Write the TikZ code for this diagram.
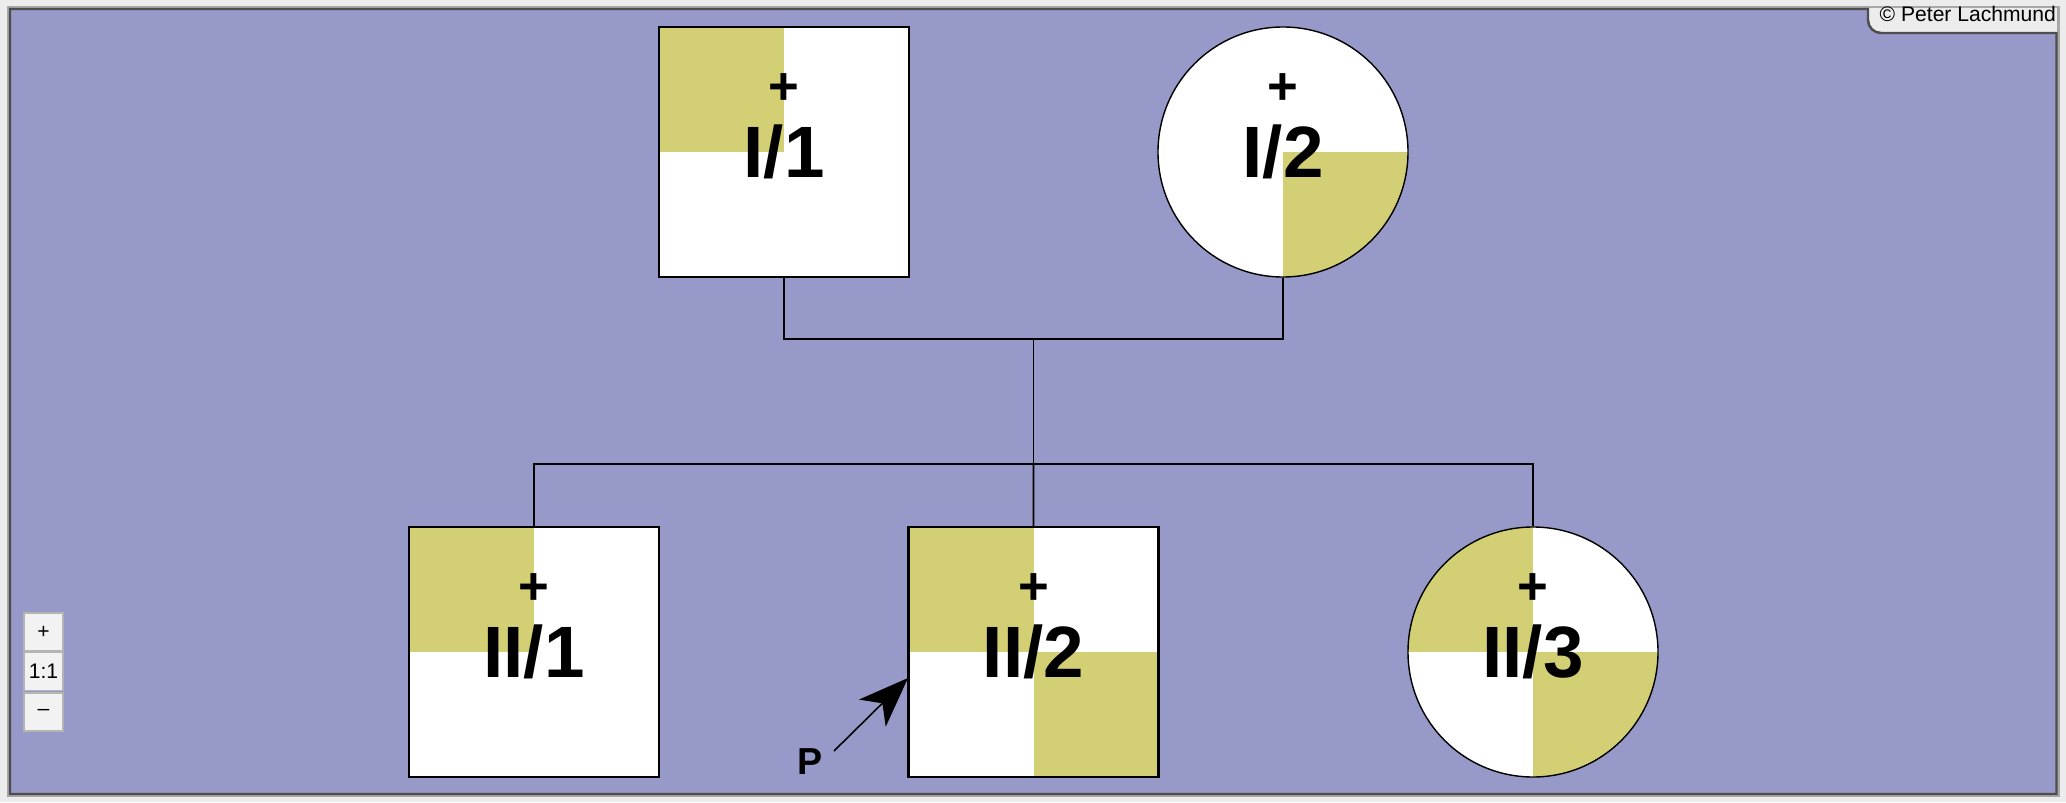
\documentclass[tikz,border=0pt]{standalone}
\usepackage{fontspec}
\setmainfont{Liberation Sans}
\usetikzlibrary{calc, arrows.meta}

\definecolor{bgpurple}{RGB}{151,153,200}
\definecolor{aff}{RGB}{211,207,116}
\definecolor{frameouter}{RGB}{236,236,236}
\definecolor{framemid}{RGB}{168,168,168}
\definecolor{framedark}{RGB}{77,77,77}
\definecolor{btnborder}{RGB}{180,180,180}
\definecolor{btnfill}{RGB}{242,242,242}

\begin{document}
\begin{tikzpicture}[
	male/.style={draw, rectangle, minimum size=2.5cm, fill=white, line width=0.6pt, inner sep=0pt, font=\bfseries\fontsize{20.7}{24}\selectfont},
	female/.style={draw, circle, minimum size=2.5cm, fill=white, line width=0.4pt, inner sep=0pt, font=\bfseries\fontsize{20.7}{24}\selectfont},
	tl/.style={path picture={\fill[aff] (path picture bounding box.north west) rectangle (path picture bounding box.center);}},
	br/.style={path picture={\fill[aff] (path picture bounding box.south east) rectangle (path picture bounding box.center);}},
	tlbr/.style={path picture={\fill[aff] (path picture bounding box.north west) rectangle (path picture bounding box.center);
		\fill[aff] (path picture bounding box.south east) rectangle (path picture bounding box.center);}},
	dec/.style={inner sep=0pt, font=\bfseries\fontsize{15}{18}\selectfont},
	line/.style={line width=0.45pt},
	btn/.style={draw=btnborder, fill=btnfill, line width=0.5pt, minimum width=0.39cm, minimum height=0.38cm, inner sep=0pt, font=\fontsize{6}{7}\selectfont}
]
	\useasboundingbox (0,0) rectangle (20.66,-8.02);

	% window frame
	\fill[frameouter] (0,0) rectangle (20.66,-8.02);
	\draw[framemid, line width=0.6pt] (0.08,-0.07) rectangle (20.585,-7.96);
	\filldraw[fill=bgpurple, draw=framedark, line width=0.7pt] (0.10,-0.09) -- (18.68,-0.09) -- (18.68,-0.20)
		arc[start angle=180, end angle=270, radius=0.13] -- (20.565,-0.33) -- (20.565,-7.94) -- (0.10,-7.94) -- cycle;
	\node[anchor=base west, inner sep=0pt, font=\fontsize{6}{7}\selectfont] (copy) at (18.79,-0.21) {© Peter Lachmund};

	% generation I
	\node[male, tl] (I1) at (7.84,-1.52) {I/1};
	\node[female, br] (I2) at (12.83,-1.52) {I/2};
	\node[dec] (I1d) at ([yshift=6.3mm]I1.center) {+};
	\node[dec] (I2d) at ([yshift=6.3mm]I2.center) {+};

	% generation II
	\node[male, tl] (II1) at (5.34,-6.52) {II/1};
	\node[male, tlbr] (II2) at (10.335,-6.52) {II/2};
	\node[female, tlbr] (II3) at (15.33,-6.52) {II/3};
	\node[dec] (II1d) at ([yshift=6.3mm]II1.center) {+};
	\node[dec] (II2d) at ([yshift=6.3mm]II2.center) {+};
	\node[dec] (II3d) at ([yshift=6.3mm]II3.center) {+};

	% lines
	\coordinate (mate) at ($(I1.south)!0.5!(I2.south)+(0,-0.61)$);
	\coordinate (sib) at ($(mate)+(0,-1.25)$);
	\draw[line] (I1.south) |- (mate) -| (I2.south);
	\draw[line] (mate) -- (sib);
	\draw[line] (II1.north) |- (sib) -| (II3.north);
	\draw[line] (sib) -- (II2.north);

	% proband
	\node[inner sep=0pt, font=\bfseries\fontsize{10.7}{13}\selectfont] (P) at (8.10,-7.62) {P};
	\coordinate (Pfrom) at (8.34,-7.51);
	\coordinate (Ptip) at (9.08,-6.78);
	\draw[line width=0.45pt, -{Stealth[length=5mm, width=3.8mm, inset=1.4mm]}] (Pfrom) -- (Ptip);

	% zoom buttons
	\node[btn] (zin) at (0.435,-6.32) {+};
	\node[btn] (zone) at (0.435,-6.715) {1:1};
	\node[btn] (zout) at (0.435,-7.12) {–};
\end{tikzpicture}
\end{document}
